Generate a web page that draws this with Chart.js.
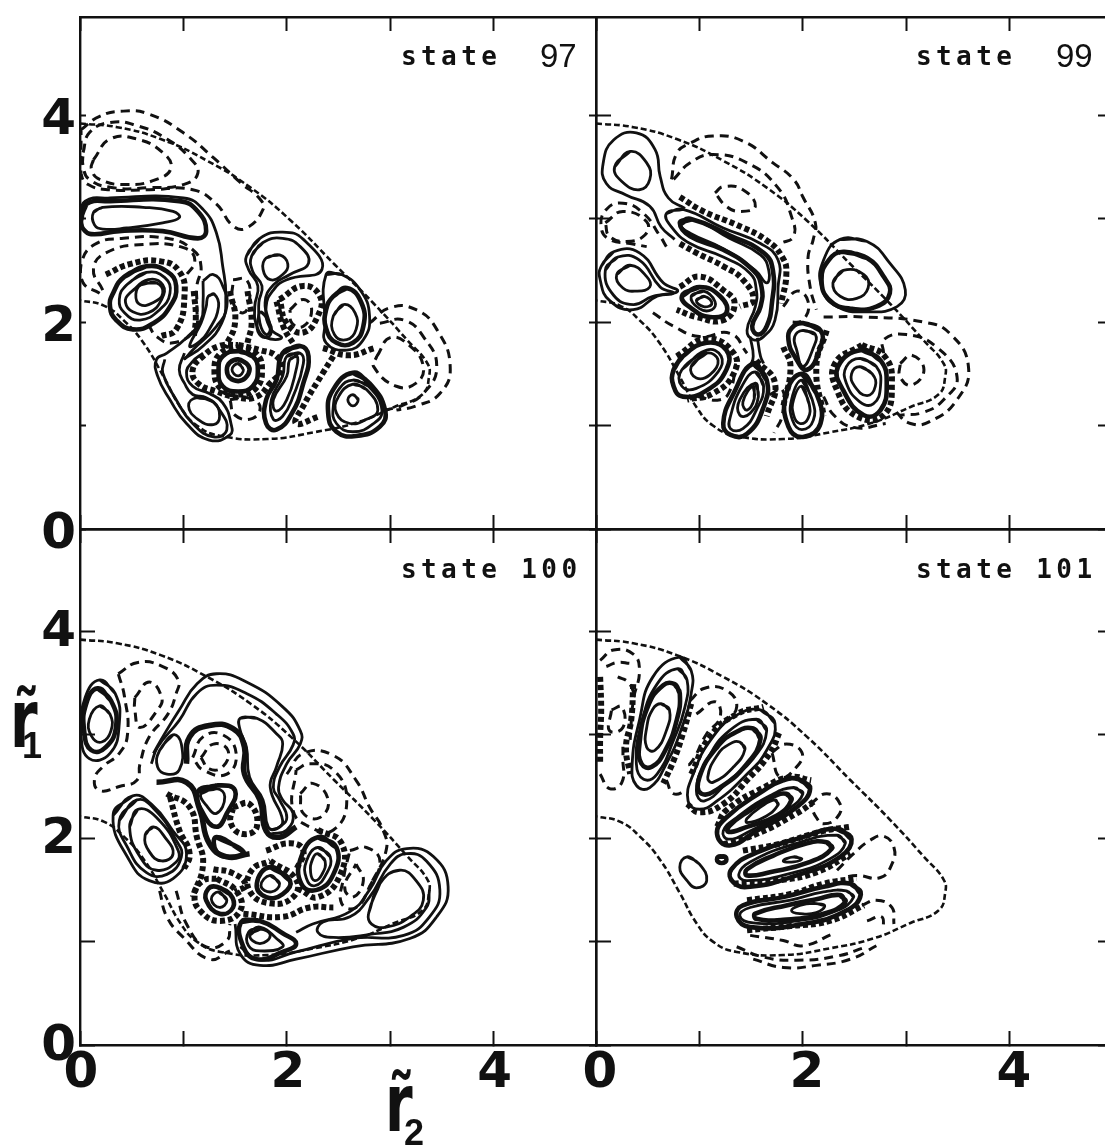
<!DOCTYPE html>
<html><head><meta charset="utf-8">
<script src="https://cdn.jsdelivr.net/npm/chart.js@4"></script>
<style>
html,body{margin:0;padding:0;background:#fff;overflow:hidden}
#page{position:relative;width:1105px;height:1145px}
canvas{position:absolute;left:0;top:0}
.st{position:absolute;font:bold 26px "DejaVu Sans Mono";letter-spacing:4.4px;color:#111;white-space:pre}
.n{position:absolute;font:33px "Liberation Sans";color:#111}
.ax{position:absolute;font:bold 80px/1 "DejaVu Sans";color:#111;white-space:pre;transform-origin:0 0;transform:scaleX(.7)}
.sb{position:absolute;font:bold 36px/1 "Liberation Sans";color:#111}
</style></head><body><div id="page">
<canvas id="c97"></canvas><canvas id="c99"></canvas><canvas id="c100"></canvas><canvas id="c101"></canvas>
<div class="st" style="left:401px;top:41px">state</div><div class="n" style="left:540px;top:37px">97</div>
<div class="st" style="left:916px;top:41px">state</div><div class="n" style="left:1056px;top:37px">99</div>
<div class="st" style="left:401px;top:554px">state 100</div>
<div class="st" style="left:916px;top:554px">state 101</div>
<div class="ax" style="left:385px;top:1064px">r&#771;</div><div class="sb" style="left:404px;top:1115px">2</div>
<div class="ax" style="left:10px;top:680px">r&#771;</div><div class="sb" style="left:22px;top:728px">1</div>
</div>
<script>
const xTicks=[0,2,4];
const yTicks=[0,2,4];
const panelStates=[97,99,100,101];
const boundary=[0,3.92,.36,3.885,.78,3.77,1.23,3.56,1.65,3.3,2.04,2.98,2.46,2.56,2.84,2.18,3.17,1.82,3.36,1.6,3.375,1.47,3.31,1.3,3.04,1.18,2.68,1.03,2.26,.935,1.81,.87,1.36,.9,1.13,1,.97,1.18,.81,1.47,.62,1.79,.43,2.01,.23,2.16,0,2.21];

const rings97=[
[.13,3.06,.22,3.11,.61,3.11,.9,3.07,.96,3.01,.8,2.96,.45,2.91,.22,2.9,.14,2.94],
[.45,2.36,.64,2.48,.82,2.43,.87,2.28,.77,2.12,.58,2.02,.43,2.09,.38,2.22],
[.48,2.28,.66,2.41,.8,2.36,.79,2.22,.66,2.09,.51,2.1,.44,2.19],
[.59,2.36,.74,2.38,.8,2.28,.71,2.19,.58,2.17,.54,2.27],
[1.24,2.25,1.3,2.27,1.34,2.15,1.25,1.93,1.14,1.8,1.06,1.77,1.17,1.99,1.22,2.15],
[1.13,1.27,1.29,1.23,1.35,1.09,1.29,1.01,1.14,1.06,1.05,1.19],
[1.53,1.6,1.58,1.54,1.53,1.48,1.47,1.54],
[1.61,2.64,1.74,2.81,1.96,2.87,2.16,2.8,2.34,2.51,2,2.41,1.87,2.31,1.8,2.15,1.84,1.94,1.95,1.85,1.8,1.85,1.71,1.96,1.69,2.15,1.72,2.35,1.63,2.51],
[1.66,2.64,1.77,2.77,1.96,2.81,2.13,2.73,2.21,2.57,2.03,2.46,1.87,2.36,1.79,2.19,1.84,1.94,1.8,1.88,1.74,1.99,1.73,2.19,1.76,2.35,1.67,2.49],
[1.8,2.62,1.93,2.65,2.01,2.56,1.96,2.46,1.84,2.41,1.77,2.51],
[1.75,2.1,1.82,2.02,1.85,1.9,1.79,1.85,1.72,1.91,1.72,2.02],
[2.38,2.46,2.53,2.46,2.71,2.31,2.8,2.06,2.74,1.83,2.58,1.73,2.38,1.8,2.37,1.99],
[2.45,2.06,2.55,2.17,2.66,2.09,2.67,1.93,2.58,1.83,2.46,1.88],
[2,1.67,2.13,1.7,2.16,1.6,2.06,1.28,1.96,1.09,1.87,1.06,1.85,1.25,1.96,1.48],
[2.03,1.64,2.1,1.67,2.09,1.54,2,1.25,1.9,1.14,1.87,1.25,2,1.48],
[2.64,1.44,2.79,1.38,2.92,1.15,2.84,1.02,2.64,.94,2.48,1.02,2.45,1.19,2.51,1.36],
[2.64,1.4,2.77,1.35,2.88,1.15,2.77,1.06,2.61,1.02,2.48,1.12,2.5,1.28],
[2.64,1.3,2.69,1.25,2.64,1.19,2.59,1.25]];
const heavy97=[
[.01,2.98,.06,3.14,.29,3.17,.96,3.17,1.14,3.07,1.22,2.88,1.14,2.81,.8,2.88,.38,2.88,.14,2.85,.05,2.88],
[.43,2.44,.64,2.54,.84,2.49,.93,2.35,.87,2.15,.71,1.99,.51,1.93,.35,2.02,.29,2.15,.32,2.28],
[1.53,1.72,1.67,1.67,1.72,1.54,1.67,1.38,1.53,1.33,1.38,1.38,1.34,1.54,1.38,1.67],
[1.53,1.64,1.61,1.6,1.64,1.54,1.6,1.46,1.53,1.43,1.45,1.46,1.42,1.54,1.45,1.61],
[2.45,2.25,2.58,2.33,2.72,2.19,2.74,1.96,2.64,1.8,2.48,1.8,2.38,1.94,2.38,2.12],
[1.96,1.7,2.13,1.77,2.21,1.67,2.16,1.41,2.05,1.12,1.9,.96,1.8,1.02,1.8,1.25,1.9,1.44],
[2.64,1.51,2.8,1.41,2.95,1.15,2.9,.99,2.67,.9,2.48,.94,2.4,1.12,2.45,1.35]];
const paths97=[
[.03,2.9,.01,3.02,.05,3.17,.29,3.2,1,3.2,1.19,3.09,1.32,2.86,1.38,2.54,1.41,2.25,1.37,1.99,1.19,1.77,1,1.64],
[1.19,2.4,1.29,2.46,1.38,2.35,1.42,2.15,1.32,1.96,1.09,1.73,1.01,1.64],
[1.19,2.4,1.19,2.19,1.17,2.02,1.03,1.85,.84,1.7,.74,1.64,.75,1.48,.87,1.25,1.03,1.02,1.25,.86,1.45,.91,1.46,1.02,1.38,1.22,1.25,1.31,1.09,1.38,1.03,1.51,1.09,1.62,1.19,1.7],
[.82,1.64,.8,1.51,.93,1.25,1.09,1.02,1.29,.89,1.42,.96,1.35,1.15,1.22,1.27,1.09,1.3,1.01,1.41,.96,1.54,1.01,1.7]];
const loops97=[
[.01,3.86,.19,3.99,.42,4.04,.67,4.01,1,3.83,1.29,3.59,1.55,3.35,1.74,3.19,1.77,3.09,1.61,2.91,1.48,2.93,1.32,3.14,1.09,3.28,.67,3.28,.29,3.28,.08,3.33,.01,3.44,.01,3.67],
[.03,3.64,.09,3.83,.29,3.93,.55,3.9,.84,3.77,1.06,3.59,1.14,3.44,1,3.33,.67,3.3,.32,3.3,.09,3.38,.03,3.51],
[.13,3.57,.29,3.77,.55,3.77,.8,3.64,.88,3.49,.74,3.38,.45,3.33,.19,3.38,.11,3.48],
[2.03,2.12,2.16,2.22,2.24,2.12,2.16,1.96,2.05,1.99],
[1.48,2.41,1.61,2.41,1.64,2.22,1.58,2.09,1.48,2.19],
[2.87,1.67,3,1.85,3.19,1.77,3.32,1.57,3.25,1.41,3.06,1.38,2.84,1.57],
[1.45,1.25,1.61,1.27,1.74,1.19,1.67,1.07,1.5,1.1]];
const dashes97=[
[.19,2.28,.03,2.38,.01,2.56,.14,2.75,.42,2.81,.84,2.81,1.09,2.7,1.17,2.54,1.13,2.35,1.13,2.15,1.11,1.93,.9,1.8,.74,1.86,.67,1.96],
[.22,2.31,.13,2.51,.25,2.67,.61,2.75,1,2.72,1.11,2.6,1.01,2.43],
[2.8,1.99,3,2.14,3.25,2.12,3.45,1.93,3.58,1.57,3.48,1.31,3.25,1.19,3.06,1.15],
[2.9,1.99,3.13,2.02,3.32,1.86,3.45,1.57,3.32,1.31,3.13,1.2,2.96,1.15]];
const dots97=[
[.25,2.46,.48,2.56,.77,2.59,.96,2.49,1.01,2.25,.93,1.93,.77,1.86],
[1.93,2.22,2.16,2.35,2.32,2.25,2.3,2.06,2.16,1.9,2,1.99,1.93,2.22],
[1.53,1.78,1.74,1.73,1.9,1.67,1.95,1.54,1.84,1.41,1.71,1.28,1.53,1.27,1.32,1.33,1.14,1.41,1.09,1.54,1.19,1.67,1.35,1.77,1.53,1.78],
[1.53,1.76,1.7,1.7,1.76,1.54,1.7,1.36,1.53,1.3,1.36,1.36,1.3,1.54,1.36,1.7,1.53,1.76],
[2.45,1.67,2.35,1.51,2.16,1.19,2.09,1.02,2.32,1.09],
[1.1,2.3,1.12,2.05,1.1,1.85],[1.45,2.3,1.5,2,1.4,1.75],[1.62,2.3,1.66,2,1.62,1.8],[1.9,2.2,1.97,1.95,2.07,1.78],[2.35,1.75,2.6,1.68,2.85,1.75]];

const rings99=[
[.18,3.5,.33,3.65,.49,3.54,.52,3.38,.42,3.28,.25,3.36],
[.68,3.05,.84,3.09,1.23,2.91,1.59,2.76,1.76,2.6,1.76,2.34,1.73,2.02,1.62,1.86,1.52,1.83,1.46,1.92,1.54,2.15,1.55,2.31,1.49,2.47,1.23,2.63,.91,2.76,.73,2.92],
[.82,2.94,.94,2.99,1.29,2.81,1.59,2.65,1.67,2.5,1.65,2.38,1.54,2.5,1.23,2.71,.91,2.86],
[.05,2.54,.17,2.68,.42,2.67,.65,2.38,.79,2.3,.59,2.25,.36,2.12,.13,2.21,.04,2.41],
[.09,2.5,.21,2.63,.42,2.6,.62,2.34,.75,2.28,.55,2.25,.36,2.17,.17,2.26],
[.2,2.46,.33,2.55,.49,2.44,.52,2.34,.39,2.3,.26,2.33],
[.92,2.25,1.04,2.3,1.15,2.2,1.12,2.12,1,2.13],
[.97,2.21,1.05,2.25,1.12,2.18,1.04,2.15],
[2.36,2.8,2.62,2.78,2.84,2.57,2.99,2.31,2.91,2.15,2.62,2.1,2.33,2.15,2.18,2.34,2.2,2.6],
[2.29,2.38,2.39,2.5,2.59,2.46,2.63,2.33,2.52,2.23,2.36,2.25],
[.83,1.54,1.07,1.73,1.21,1.67,1.18,1.52,.97,1.36,.83,1.38],
[.92,1.57,1.07,1.7,1.18,1.63,1.1,1.49,.97,1.46],
[1.54,1.52,1.62,1.38,1.55,1.15,1.42,.97,1.3,.97,1.3,1.09,1.41,1.38],
[1.54,1.41,1.57,1.28,1.49,1.12,1.39,1.1,1.39,1.25],
[1.52,1.38,1.53,1.26,1.46,1.15,1.42,1.23],
[2,1.92,2.12,1.88,2.1,1.75,2,1.57,1.94,1.73,1.92,1.86],
[1.99,1.44,2.09,1.25,2.1,1.05,1.99,.96,1.9,1.05,1.89,1.25],
[1.99,1.38,2.06,1.21,2.05,1.07,1.97,1.02,1.91,1.1,1.91,1.25],
[2.55,1.65,2.71,1.57,2.75,1.38,2.68,1.21,2.55,1.23,2.42,1.41,2.42,1.57],
[2.55,1.57,2.67,1.5,2.7,1.38,2.62,1.29,2.5,1.38,2.47,1.5]];
const heavy99=[
[.81,2.96,.91,3,1.29,2.84,1.62,2.67,1.71,2.5,1.7,2.18,1.65,1.96,1.57,1.88,1.51,1.96,1.59,2.15,1.6,2.34,1.52,2.5,1.23,2.7,.91,2.83],
[.83,2.25,1,2.34,1.2,2.25,1.26,2.09,1.1,2.05,.94,2.12],
[2.39,2.68,2.62,2.62,2.78,2.44,2.84,2.28,2.71,2.15,2.46,2.13,2.26,2.21,2.18,2.41,2.25,2.6],
[.75,1.54,.84,1.67,1.07,1.8,1.26,1.73,1.26,1.54,1.07,1.34,.84,1.28,.75,1.38],
[1.52,1.6,1.65,1.44,1.62,1.18,1.46,.92,1.3,.91,1.23,1.02,1.33,1.31],
[2,1.99,2.17,1.92,2.17,1.76,2.04,1.54,1.92,1.67,1.86,1.83,1.89,1.94],
[1.99,1.5,2.13,1.31,2.17,1.02,2,.89,1.86,.99,1.84,1.31],
[2.57,1.73,2.75,1.63,2.81,1.41,2.75,1.15,2.59,1.1,2.39,1.34,2.34,1.57]];
const paths99=[
[.86,3.1,.7,3.2,.62,3.41,.57,3.67,.39,3.83,.17,3.76,.07,3.54,.1,3.34,.29,3.23,.52,3.12,.63,2.92,.76,2.8],
[1.49,1.86,1.52,1.67,1.49,1.57],[1.56,1.85,1.59,1.67,1.62,1.6]];
const loops99=[
[1.15,3.25,1.23,3.31,1.42,3.28,1.54,3.12,1.39,3.07,1.26,3.12],
[.09,2.96,.26,3.07,.49,2.97,.47,2.84,.29,2.78,.13,2.83],
[2.94,1.6,3.05,1.68,3.17,1.54,3.05,1.39,2.94,1.47]];
const dashes99=[
[.73,3.38,.78,3.63,.91,3.73,1.13,3.8,1.42,3.75,1.71,3.54,1.91,3.38,2,3.21,2.12,2.96,2.1,2.8,2.05,2.63,2.07,2.34,2.13,2.12],
[.75,3.38,.91,3.54,1.13,3.62,1.46,3.54,1.75,3.31,1.89,3.02,1.91,2.83,1.78,2.76],
[.68,2.73,.62,2.83,.46,3.05,.26,3.15,.1,3.09,.05,2.92,.13,2.8,.33,2.76,.49,2.73],
[2.2,2.05,2.59,2.05,3.17,2,3.42,1.89,3.6,1.57,3.49,1.25,3.23,1.04,3.04,1.02,2.88,1.15],
[2.78,1.7,2.78,1.83,3,1.88,3.29,1.76,3.49,1.47,3.36,1.25,3.17,1.13,2.94,1.1],
[1.81,2.15,1.94,2.3,2.05,2.2,2,2.02,1.85,2],
[.55,2.09,.75,1.96,1,1.86,1.3,1.89,1.46,1.7],
[.98,1.28,1.2,1.25,1.3,1.35,1.35,1.6],
[1.68,1.3,1.8,1.35,1.8,1.1,1.72,.93],
[2.2,1.28,2.3,1.1,2.5,.98,2.8,1.02]];
const dots99=[
[.81,3.21,1.04,3.07,1.36,2.94,1.65,2.79,1.8,2.63,1.84,2.47,1.79,2.18],
[.81,2.76,.97,2.67,1.23,2.54,1.42,2.41,1.52,2.21,1.39,2.15],
[.81,2.34,1,2.44,1.23,2.31,1.34,2.18,1.23,2.02,.97,2.05,.78,2.12],
[.78,1.67,1.07,1.84,1.33,1.7,1.33,1.5,1.13,1.31,.88,1.25],
[1.55,1.63,1.73,1.41,1.65,1.09],
[1.81,1.76,1.88,1.57,1.81,1.18],[2.23,1.92,2.13,1.57,2.2,1.09],
[2.57,1.78,2.79,1.67,2.86,1.41,2.78,1.1,2.52,1.09,2.33,1.34,2.31,1.6,2.57,1.78]];

const rings100=[
[.19,3.53,.34,3.4,.38,3.11,.29,2.82,.09,2.77,.01,3.01,.05,3.36],
[.19,3.28,.29,3.2,.3,3.04,.21,2.93,.11,2.99,.09,3.15],
[1.55,3.16,1.71,3.16,1.9,3.01,1.96,2.91,1.9,2.69,1.84,2.49,1.96,2.17,1.9,2.09,1.82,2.11,1.77,2.37,1.64,2.59,1.61,2.88,1.55,3.04],
[.77,2.85,.9,3,.98,2.91,.96,2.66,.84,2.62,.75,2.69],
[1.17,2.43,1.32,2.48,1.4,2.4,1.32,2.24,1.22,2.32],
[.32,2.22,.51,2.41,.69,2.33,.9,2.07,1.03,1.85,.9,1.61,.67,1.59,.48,1.78],
[.38,2.17,.55,2.37,.71,2.29,.93,1.98,.98,1.82,.84,1.65,.64,1.67,.46,1.91],
[.48,2.11,.56,2.28,.74,2.2,.95,1.88,.93,1.77,.74,1.69,.58,1.82],
[.63,2.03,.71,2.11,.82,2.01,.9,1.85,.79,1.78,.67,1.87],
[2.3,1.91,2.42,1.82,2.38,1.65,2.27,1.54,2.19,1.61,2.19,1.78],
[2.3,1.85,2.37,1.78,2.34,1.65,2.27,1.59,2.23,1.67,2.25,1.8],
[1.84,1.64,1.93,1.56,1.85,1.48,1.75,1.54],
[1.34,1.48,1.42,1.4,1.35,1.33,1.27,1.41],
[1.63,1.09,1.74,1.14,1.9,1.03,1.96,.95,1.74,.91,1.63,.96],
[1.64,1.06,1.74,1.12,1.84,1.06,1.74,.98],
[2.79,1.27,2.9,1.56,3.09,1.69,3.25,1.59,3.32,1.4,3.19,1.24,2.96,1.14,2.82,1.17]];
const heavy100=[
[.17,3.45,.3,3.33,.35,3.09,.25,2.88,.11,2.85,.04,3.04,.06,3.3],
[1.14,2.45,1.32,2.51,1.5,2.46,1.42,2.24,1.32,2.11,1.19,2.24],
[1.32,2.01,1.58,1.87,1.45,1.82,1.32,1.87],
[2.3,2.01,2.48,1.91,2.45,1.65,2.29,1.5,2.14,1.56,2.14,1.82],
[1.84,1.72,2.03,1.59,1.96,1.46,1.8,1.43,1.71,1.56],
[1.32,1.53,1.45,1.46,1.48,1.33,1.35,1.27,1.22,1.4,1.24,1.51],
[1.56,1.19,1.74,1.2,1.96,1.08,2.09,.98,1.96,.9,1.71,.83,1.58,.95]];
const paths100=[
[.71,2.82,.8,2.98,.96,3.24,1.13,3.49,1.32,3.59,1.61,3.51,1.96,3.27,2.13,3.04,2.13,2.91,2,2.72,1.92,2.49,1.96,2.37,2.06,2.24,2,2.08,1.84,2.04],
[.69,2.72,.75,2.88,.96,3.14,1.13,3.4,1.32,3.48,1.61,3.4,1.9,3.2,2.06,3.01,2.06,2.9,1.93,2.69,1.87,2.49,1.93,2.37,2,2.2,1.93,2.11,1.85,2.08],
[1.5,1.17,1.55,.88,1.74,.77,2.09,.83,2.64,.95,3.19,1.03,3.45,1.24,3.56,1.53,3.42,1.82,3.16,1.9,2.96,1.78,2.8,1.5,2.61,1.29,2.25,1.17,2.09,1.09],
[1.55,.95,1.74,.82,2.09,.9,2.64,1.03,3.13,1.06,3.38,1.24,3.48,1.5,3.35,1.78,3.16,1.85,3,1.75,2.8,1.43,2.61,1.24,2.35,1.19,2.3,1.09,2.45,1.04,2.8,1.07,3.13,1.14,3.35,1.33,3.38,1.5]];
const bold100=[
[1.03,2.72,1.06,2.98,1.25,3.09,1.48,3.06,1.59,2.88,1.59,2.62,1.74,2.37,1.8,2.07,1.93,2.01,2.09,2.11],
[.74,2.54,1.03,2.54,1.16,2.27,1.25,1.95,1.42,1.82,1.64,1.85]];
const loops100=[
[.37,3.59,.56,3.7,.8,3.66,.95,3.53,.93,3.4,.85,3.2,.67,2.98,.58,2.72,.55,2.56,.38,2.5,.19,2.46,.14,2.57,.22,2.69,.38,2.82,.46,3.01,.43,3.37],
[.53,3.36,.67,3.51,.79,3.36,.75,3.24,.58,3.07,.53,3.24],
[1.09,2.78,1.19,2.98,1.38,3,1.51,2.82,1.42,2.62,1.19,2.66],
[1.17,2.78,1.29,2.91,1.43,2.85,1.38,2.69,1.25,2.67],
[2.09,2.66,2.22,2.72,2.45,2.66,2.58,2.37,2.45,2.08,2.22,2.11,2.06,2.27],
[2.13,2.43,2.25,2.53,2.4,2.37,2.32,2.2,2.16,2.24],
[2.61,1.88,2.77,1.91,2.9,1.78,2.8,1.53,2.67,1.33,2.53,1.37,2.55,1.62],
[2.67,1.75,2.74,1.59,2.64,1.43,2.56,1.53]];
const dashes100=[
[2,2.62,2.16,2.82,2.45,2.8,2.67,2.56,2.8,2.3,2.93,2.08,2.96,1.88,2.8,1.53],
[.77,1.49,.84,1.24,1,1.04,1.25,.83,1.45,.91],
[.93,1.49,1.03,1.17,1.22,.95,1.42,1.01,1.45,1.17]];
const dots100=[
[.84,2.43,1.06,2.3,1.13,2.01,1.19,1.75,1.09,1.43],
[.87,2.4,.96,2.08,1.06,1.85,1,1.69],
[1.48,2.3,1.64,2.33,1.71,2.11,1.58,2.04,1.46,2.14,1.48,2.3],
[1.32,1.61,1.51,1.49,1.55,1.3,1.35,1.2,1.16,1.3,1.11,1.46,1.19,1.59,1.32,1.61],
[1.84,1.78,2.09,1.6,2.06,1.43,1.84,1.37,1.64,1.49,1.66,1.69,1.84,1.78],
[1.8,1.88,2.03,1.95,2.16,1.88,2.09,1.69],
[2.3,2.08,2.53,1.95,2.51,1.63,2.3,1.43,2.13,1.5],
[1.58,1.27,1.96,1.24,2.22,1.33,2.45,1.33],
[1.29,1.7,1.48,1.66,1.6,1.55,1.5,1.48]];

const rings101=[
[.81,3.75,.92,3.62,.92,3.4,.83,3.07,.68,2.72,.52,2.49,.39,2.51,.35,2.72,.42,3.14,.55,3.56],
[.79,3.64,.88,3.53,.86,3.27,.75,2.95,.59,2.62,.46,2.57,.39,2.72,.44,3.11,.59,3.49],
[.63,3.3,.71,3.24,.68,3.04,.57,2.85,.49,2.88,.49,3.07,.55,3.25],
[1.59,3.24,1.73,3.11,1.65,2.85,1.46,2.62,1.17,2.36,1,2.28,.89,2.36,.94,2.62,1.13,2.98,1.36,3.19],
[1.55,3.15,1.65,3.04,1.52,2.77,1.29,2.56,1.05,2.36,.97,2.46,1.07,2.75,1.29,3.04],
[1.39,2.93,1.44,2.86,1.33,2.69,1.13,2.54,1.08,2.59,1.17,2.8,1.29,2.91],
[1.91,2.49,2,2.43,1.84,2.27,1.49,2.07,1.28,1.99,1.23,2.07,1.36,2.2,1.68,2.41],
[1.73,2.37,1.76,2.32,1.62,2.2,1.46,2.15,1.46,2.19,1.59,2.3],
[2.33,2.03,2.41,1.95,2.26,1.8,1.88,1.66,1.46,1.59,1.38,1.65,1.49,1.77,1.94,1.95],
[1.91,1.82,1.99,1.8,1.91,1.77,1.81,1.78],
[2.42,1.49,2.49,1.43,2.33,1.3,1.94,1.2,1.52,1.18,1.39,1.25,1.49,1.33,1.88,1.4,2.2,1.48],
[2.1,1.37,2.21,1.35,2.13,1.28,1.97,1.27,1.89,1.3,1.97,1.35],
[.88,1.82,1,1.75,1.07,1.59,.97,1.52,.88,1.59,.81,1.72]];
const heavy101=[
[.76,3.49,.81,3.4,.78,3.14,.67,2.85,.54,2.69,.44,2.72,.42,2.91,.5,3.27,.65,3.48],
[1.52,3.06,1.59,2.96,1.46,2.72,1.2,2.49,1.02,2.43,1,2.59,1.17,2.88,1.36,3.03],
[1.96,2.57,2.07,2.48,1.94,2.3,1.55,2.07,1.29,1.93,1.17,2.04,1.26,2.2,1.62,2.46,1.81,2.56],
[1.84,2.43,1.89,2.37,1.75,2.22,1.46,2.11,1.28,2.06,1.29,2.12,1.49,2.27,1.71,2.4],
[2.33,2.09,2.47,1.99,2.36,1.82,1.94,1.64,1.49,1.53,1.33,1.57,1.31,1.7,1.55,1.86,2,2.01],
[2.23,1.96,2.28,1.9,2.07,1.77,1.68,1.67,1.46,1.64,1.46,1.7,1.71,1.83,2.04,1.95],
[2.46,1.56,2.56,1.46,2.42,1.3,2,1.17,1.49,1.14,1.36,1.24,1.42,1.35,1.81,1.43,2.2,1.53],
[2.36,1.45,2.41,1.38,2.2,1.27,1.81,1.21,1.55,1.22,1.54,1.27,1.84,1.35,2.13,1.41],
[1.18,1.82,1.25,1.82,1.25,1.77,1.18,1.77]];
const loops101=[
[.15,3.24,.25,3.27,.26,3.07,.13,3.04],
[1.7,2.83,1.84,2.91,1.99,2.83,1.94,2.69,1.78,2.59],
[2.07,2.33,2.23,2.43,2.36,2.33,2.33,2.2,2.2,2.14,2.13,2.2]];
const dashes101=[
[.04,3.72,.17,3.82,.36,3.78,.42,3.62,.36,3.33,.33,2.95],
[.1,3.66,.21,3.7,.33,3.69],[.21,3.56,.31,3.51,.37,3.4],
[.04,2.62,.13,2.48,.25,2.54,.26,2.78,.26,2.9],
[.91,3.33,1.05,3.45,1.26,3.43,1.36,3.27,1.23,3.11],
[.97,3.2,1.15,3.32,1.2,3.17,1.07,3.01,.91,2.72,.84,2.72],
[.68,2.56,.75,2.43,.88,2.46],
[2.33,1.69,2.49,1.85,2.65,1.98,2.78,2.02,2.88,1.91,2.86,1.75,2.75,1.62,2.52,1.64,2.39,1.62],
[1.52,.83,1.81,.75,2.13,.77,2.46,.83,2.71,.96],
[1.36,.95,1.62,.85,1.94,.82,2.33,.86,2.62,.95],
[1.49,1.06,1.81,1.01,2,.96,2.3,1.08],
[2.57,1.35,2.71,1.4,2.86,1.33,2.88,1.17],
[2.62,1.2,2.76,1.24,2.78,1.12]];
const dots101=[
[.04,3.56,.05,3.24,.04,2.98,.04,2.72],
[.36,3.49,.34,3.14,.29,2.88,.33,2.62],
[.92,3.3,.84,3.01,.75,2.75,.65,2.53],
[.92,2.62,1.1,2.98,1.36,3.2,1.62,3.27],
[.88,2.33,1,2.25,1.23,2.33,1.46,2.56,1.68,2.82,1.78,3.04],
[1.17,2.11,1.26,2.27,1.62,2.49,1.88,2.59,2.08,2.56],
[1.23,1.94,1.55,2.04,1.94,2.24,2.13,2.37],
[1.42,1.88,1.75,1.94,2.2,2.07,2.46,2.11],
[1.33,1.56,1.75,1.59,2.13,1.67,2.46,1.85],
[1.46,1.4,1.88,1.46,2.2,1.56,2.52,1.61],
[1.46,1.11,1.88,1.15,2.26,1.2,2.59,1.35]];

const pairs=a=>{const o=[];for(let i=0;i<a.length;i+=2)o.push({x:a[i],y:a[i+1]});return o;};
const INK='#111';
function ds(a,w,dash,close){
  let d=a;
  if(close==='smooth')d=a.concat(a.slice(0,4));
  if(close==='once')d=a.concat(a.slice(0,2));
  return {data:pairs(d),showLine:true,fill:false,pointRadius:0,borderColor:INK,backgroundColor:INK,borderWidth:w,borderDash:dash,tension:.48,borderCapStyle:'butt'};
}
function noPad(s){s.paddingTop=0;s.paddingBottom=0;s.paddingLeft=0;s.paddingRight=0;}
function axisX(pos,tick,labels,max,off){
  return {type:'linear',position:pos,min:0,max:max,afterFit:s=>{s.height=labels?70:0;noPad(s);},
    border:{display:true,color:INK,width:2.4},
    grid:{drawOnChartArea:false,drawTicks:true,tickLength:-tick,tickWidth:2,tickColor:INK},
    ticks:{display:labels,stepSize:1,includeBounds:false,autoSkip:false,maxRotation:0,padding:tick-1,labelOffset:off||0,color:INK,
      font:{family:'DejaVu Sans',weight:'bold',size:50},callback:v=>xTicks.includes(v)?String(v):''}};
}
function axisY(pos,tick,labels,max,border,off){
  return {type:'linear',position:pos,min:0,max:max,afterFit:s=>{s.width=labels?70:0;noPad(s);},
    border:{display:border,color:INK,width:2.4},
    grid:{drawOnChartArea:false,drawTicks:true,tickLength:-tick,tickWidth:2,tickColor:INK},
    ticks:{display:labels,stepSize:1,includeBounds:false,autoSkip:false,padding:tick+4,labelOffset:off||0,color:INK,
      font:{family:'DejaVu Sans',weight:'bold',size:50},callback:v=>yTicks.includes(v)?String(v):''}};
}
function panel(id,box,xmax,ymax,opts,g){
  const sets=[ds(boundary,2.6,[6,3])];
  (g.loops||[]).forEach(a=>sets.push(ds(a,3,[9,6],'once')));
  (g.dashes||[]).forEach(a=>sets.push(ds(a,3,[9,6])));
  (g.dots||[]).forEach(a=>sets.push(ds(a,6,[5,3])));
  (g.rings||[]).forEach(a=>sets.push(ds(a,2.8,[],'smooth')));
  (g.paths||[]).forEach(a=>sets.push(ds(a,2.8,[])));
  (g.bold||[]).forEach(a=>sets.push(ds(a,5.5,[])));
  (g.heavy||[]).forEach(a=>sets.push(ds(a,4.6,[],'smooth')));
  new Chart(document.getElementById(id),{type:'scatter',data:{datasets:sets},
    options:{responsive:false,animation:false,events:[],
      layout:{padding:box,autoPadding:false},
      plugins:{legend:{display:false},tooltip:{enabled:false},title:{display:false}},
      scales:{
        x:axisX('bottom',opts.bottom,opts.xLabels,xmax,opts.xOff),
        xTop:axisX('top',opts.top,false,xmax),
        y:axisY('left',opts.left,opts.yLabels,ymax,true,opts.yOff),
        yRight:axisY('right',opts.right,false,ymax,opts.rightBorder)
      }}});
}
['c97','c99','c100','c101'].forEach(id=>{const c=document.getElementById(id);c.width=1105;c.height=1145;});
const H=1145,W=1105;
panel('c97',{left:10,top:17,right:W-596,bottom:H-529},4.99,4.95,{bottom:14,top:14,left:6,right:7,xLabels:false,yLabels:true,rightBorder:true,yOff:6},
  {rings:rings97,heavy:heavy97,paths:paths97,loops:loops97,dashes:dashes97,dots:dots97});
panel('c99',{left:596,top:17,right:0,bottom:H-529},4.92,4.95,{bottom:14,top:14,left:15,right:7,xLabels:false,yLabels:false,rightBorder:false},
  {rings:rings99,heavy:heavy99,paths:paths99,loops:loops99,dashes:dashes99,dots:dots99});
panel('c100',{left:10,top:529,right:W-596,bottom:H-1045-70},4.99,4.99,{bottom:14,top:14,left:15,right:7,xLabels:true,yLabels:true,rightBorder:true,xOff:1,yOff:2},
  {rings:rings100,heavy:heavy100,paths:paths100,bold:bold100,loops:loops100,dashes:dashes100,dots:dots100});
panel('c101',{left:596,top:529,right:0,bottom:H-1045-70},4.92,4.99,{bottom:14,top:14,left:15,right:7,xLabels:true,yLabels:false,rightBorder:false,xOff:4},
  {rings:rings101,heavy:heavy101,loops:loops101,dashes:dashes101,dots:dots101});
</script></body></html>
